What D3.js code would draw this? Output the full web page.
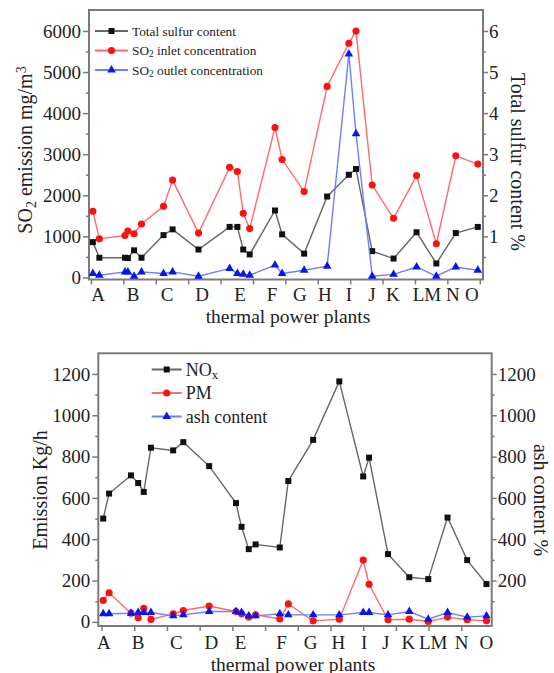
<!DOCTYPE html>
<html lang="en">
<head>
<meta charset="UTF-8">
<title>Thermal power plants - emissions</title>
<style>
    body { margin: 0; background: #fff; }
    svg { display: block; font-family: "Liberation Serif", "Times New Roman", serif; }
</style>
</head>
<body>
<div id="chart"></div>
<script src="https://d3js.org/d3.v7.min.js"></script>
<script>
// plant names shown under the x axis
const plantLabels = ["A", "B", "C", "D", "E", "F", "G", "H", "I", "J", "K", "LM", "N", "O"];

// top panel: SO2 emission and total sulfur content
const labelPosTop = [0.22, 1.30, 2.35, 3.43, 4.60, 5.59, 6.45, 7.22, 7.96, 8.67, 9.32, 10.37, 11.17, 11.76];
const samplePosTop = [0.06, 0.26, 1.05, 1.14, 1.33, 1.56, 2.24, 2.52, 3.32, 4.28, 4.52, 4.70, 4.90,
                      5.68, 5.90, 6.58, 7.29, 7.96, 8.18, 8.68, 9.34, 10.05, 10.66, 11.26, 11.94];
const sulfurContent = [0.86, 0.48, 0.48, 0.47, 0.66, 0.48, 1.03, 1.17, 0.68, 1.23, 1.23, 0.68, 0.56,
                       1.63, 1.05, 0.58, 1.97, 2.50, 2.64, 0.64, 0.46, 1.10, 0.34, 1.08, 1.23];
const so2Inlet = [1610, 940, 1020, 1130, 1065, 1300, 1730, 2370, 1080, 2680, 2580, 1560, 1190,
                  3650, 2870, 2090, 4650, 5700, 6000, 2250, 1440, 2480, 820, 2960, 2760];
const so2Outlet = [95, 55, 135, 135, 30, 135, 95, 135, 30, 220, 95, 80, 55,
                   300, 95, 175, 275, 5440, 3500, 30, 75, 255, 30, 255, 175];

// bottom panel: NOx, PM and ash content
const labelPosBottom = [0.07, 1.12, 2.29, 3.36, 4.25, 5.50, 6.39, 7.24, 8.03, 8.69, 9.38, 10.14, 11.01, 11.77];
const samplePosBottom = [0.05, 0.23, 0.90, 1.12, 1.29, 1.51, 2.19, 2.50, 3.29, 4.11, 4.28, 4.50, 4.71,
                         5.45, 5.71, 6.47, 7.27, 8.00, 8.18, 8.76, 9.41, 9.99, 10.58, 11.18, 11.77];
const noxEmission = [500, 621, 709, 672, 629, 843, 830, 870, 754, 575, 460, 352, 375,
                     360, 682, 881, 1164, 704, 795, 328, 216, 207, 505, 299, 183];
const pmEmission = [104, 141, 42, 20, 65, 12, 39, 55, 77, 50, 39, 23, 34,
                    14, 87, 5, 13, 299, 182, 10, 13, 2, 23, 10, 5];
const ashContent = [39, 39, 42, 45, 45, 45, 29, 34, 50, 50, 45, 29, 29,
                    39, 34, 34, 34, 45, 45, 34, 50, 13, 45, 23, 29];

const width = 554;
const height = 673;

const svg = d3.select("#chart").append("svg")
    .attr("width", width)
    .attr("height", height);

function addRich(textSel, parts) {
    // parts: [text, kind] where kind is "", "sub" or "sup"
    parts.forEach(([t, kind]) => {
        const ts = textSel.append("tspan").text(t);
        if (kind === "sub") ts.attr("baseline-shift", "-25%").style("font-size", "0.7em");
        if (kind === "sup") ts.attr("baseline-shift", "40%").style("font-size", "0.7em");
    });
}

function renderPanel(p) {
    const g = svg.append("g");
    const x = d3.scaleLinear().domain(p.xDomain).range([p.left, p.right]);
    const y = d3.scaleLinear().domain(p.yDomain).range([p.bottom, p.top]);
    const yR = d3.scaleLinear().domain(p.yRightDomain).range([p.bottom, p.top]);

    // left axis
    const gl = g.append("g").attr("transform", `translate(${p.left},0)`);
    gl.append("g").call(d3.axisLeft(y).tickValues(p.leftMinor).tickSize(3).tickFormat(""));
    gl.append("g").call(d3.axisLeft(y).tickValues(p.leftTicks).tickSize(6).tickPadding(2).tickFormat(d3.format("d")));

    // right axis
    const gr = g.append("g").attr("transform", `translate(${p.right},0)`);
    gr.append("g").call(d3.axisRight(yR).tickValues(p.rightMinor).tickSize(3).tickFormat(""));
    gr.append("g").call(d3.axisRight(yR).tickValues(p.rightTicks).tickSize(5).tickPadding(1).tickFormat(d3.format("d")));

    // bottom axis: ticks only, names are placed separately
    g.append("g").attr("transform", `translate(0,${p.bottom})`)
        .call(d3.axisBottom(x).tickValues(d3.range(0, p.xTickCount)).tickSize(5).tickFormat(""));

    g.selectAll(".domain").remove();
    g.selectAll(".tick line").attr("stroke", "#7a7a7a").attr("stroke-width", 1.5);
    g.selectAll(".tick text").attr("fill", "#222").style("font-size", "19px")
        .style("font-family", "'Liberation Serif', serif");

    g.append("rect")
        .attr("x", p.left).attr("y", p.top)
        .attr("width", p.right - p.left).attr("height", p.bottom - p.top)
        .attr("fill", "none").attr("stroke", "#7a7a7a").attr("stroke-width", 2);

    // plant names
    g.selectAll(".plant")
        .data(plantLabels)
        .enter()
        .append("text")
        .attr("class", "plant")
        .attr("x", (d, i) => x(p.labelPos[i]))
        .attr("y", p.labelY)
        .attr("text-anchor", "middle")
        .style("font-size", "19px")
        .attr("fill", "#222")
        .text(d => d);

    g.append("text")
        .attr("x", p.xTitle[0]).attr("y", p.xTitle[1])
        .attr("text-anchor", "middle")
        .style("font-size", "19.5px")
        .attr("fill", "#222")
        .text("thermal power plants");

    const lt = g.append("text")
        .attr("transform", `translate(${p.yTitle[0]},${p.yTitle[1]}) rotate(-90)`)
        .attr("text-anchor", "middle")
        .attr("dy", "0.35em")
        .style("font-size", "20px")
        .attr("fill", "#222");
    addRich(lt, p.yTitleParts);

    g.append("text")
        .attr("transform", `translate(${p.yRightTitle[0]},${p.yRightTitle[1]}) rotate(90)`)
        .attr("text-anchor", "middle")
        .attr("dy", "0.35em")
        .style("font-size", "20px")
        .attr("fill", "#222")
        .text(p.yRightText);

    // series
    p.series.forEach(s => {
        const sc = s.right ? yR : y;
        const line = d3.line().x((d, i) => x(p.samplePos[i])).y(d => sc(d));
        g.append("path")
            .datum(s.values)
            .attr("d", line)
            .attr("fill", "none")
            .attr("stroke", s.lineColor)
            .attr("stroke-width", 1.4);
        g.selectAll(null)
            .data(s.values)
            .enter()
            .append("path")
            .attr("transform", (d, i) => `translate(${x(p.samplePos[i])},${sc(d)})`)
            .attr("d", d3.symbol().type(s.symbol).size(s.size)())
            .attr("fill", s.color);
    });

    // legend
    const lg = g.append("g");
    p.series.forEach((s, i) => {
        const ly = p.legend.y + i * p.legend.step;
        lg.append("line")
            .attr("x1", p.legend.x1).attr("x2", p.legend.x2)
            .attr("y1", ly).attr("y2", ly)
            .attr("stroke", s.lineColor).attr("stroke-width", 2);
        lg.append("path")
            .attr("transform", `translate(${(p.legend.x1 + p.legend.x2) / 2},${ly})`)
            .attr("d", d3.symbol().type(s.symbol).size(s.size)())
            .attr("fill", s.color);
        const t = lg.append("text")
            .attr("x", p.legend.x2 + 4).attr("y", ly)
            .attr("dy", "0.35em")
            .style("font-size", p.legend.fontSize)
            .attr("fill", "#222");
        addRich(t, s.label);
    });
}

renderPanel({
    left: 89, right: 483, top: 10, bottom: 279.5,
    xDomain: [-0.06, 12.1], xTickCount: 13,
    yDomain: [-50, 6510], yRightDomain: [-0.05, 6.51],
    leftTicks: d3.range(0, 6001, 1000), leftMinor: d3.range(500, 6000, 1000),
    rightTicks: [1, 2, 3, 4, 5, 6], rightMinor: [0.5, 1.5, 2.5, 3.5, 4.5, 5.5],
    labelPos: labelPosTop, labelY: 301,
    samplePos: samplePosTop,
    xTitle: [288, 323],
    yTitle: [25, 150],
    yTitleParts: [["SO", ""], ["2", "sub"], [" emission mg/m", ""], ["3", "sup"]],
    yRightTitle: [518, 162],
    yRightText: "Total sulfur content %",
    legend: { x1: 95, x2: 128, y: 31, step: 19.5, fontSize: "13.3px" },
    series: [
        { values: sulfurContent, right: true, color: "#111", lineColor: "#666", symbol: d3.symbolSquare, size: 36,
          label: [["Total sulfur content", ""]] },
        { values: so2Inlet, right: false, color: "#ff1010", lineColor: "#ff6a6a", symbol: d3.symbolCircle, size: 40,
          label: [["SO", ""], ["2", "sub"], [" inlet concentration", ""]] },
        { values: so2Outlet, right: false, color: "#0a14f0", lineColor: "#6a80ff", symbol: d3.symbolTriangle, size: 32,
          label: [["SO", ""], ["2", "sub"], [" outlet concentration", ""]] }
    ]
});

renderPanel({
    left: 98.3, right: 491.7, top: 353.3, bottom: 626,
    xDomain: [-0.1, 11.93], xTickCount: 12,
    yDomain: [-20, 1300], yRightDomain: [-20, 1300],
    leftTicks: d3.range(0, 1201, 200), leftMinor: d3.range(100, 1300, 200),
    rightTicks: d3.range(200, 1201, 200), rightMinor: d3.range(100, 1300, 200),
    labelPos: labelPosBottom, labelY: 648.5,
    samplePos: samplePosBottom,
    xTitle: [293, 670.5],
    yTitle: [40, 490],
    yTitleParts: [["Emission Kg/h", ""]],
    yRightTitle: [541, 500],
    yRightText: "ash content %",
    legend: { x1: 151.7, x2: 181.7, y: 369.5, step: 23.5, fontSize: "18px" },
    series: [
        { values: noxEmission, right: false, color: "#111", lineColor: "#666", symbol: d3.symbolSquare, size: 36,
          label: [["NO", ""], ["x", "sub"]] },
        { values: pmEmission, right: false, color: "#ff1010", lineColor: "#ff6a6a", symbol: d3.symbolCircle, size: 40,
          label: [["PM", ""]] },
        { values: ashContent, right: true, color: "#0a14f0", lineColor: "#6a80ff", symbol: d3.symbolTriangle, size: 32,
          label: [["ash content", ""]] }
    ]
});
</script>
</body>
</html>
